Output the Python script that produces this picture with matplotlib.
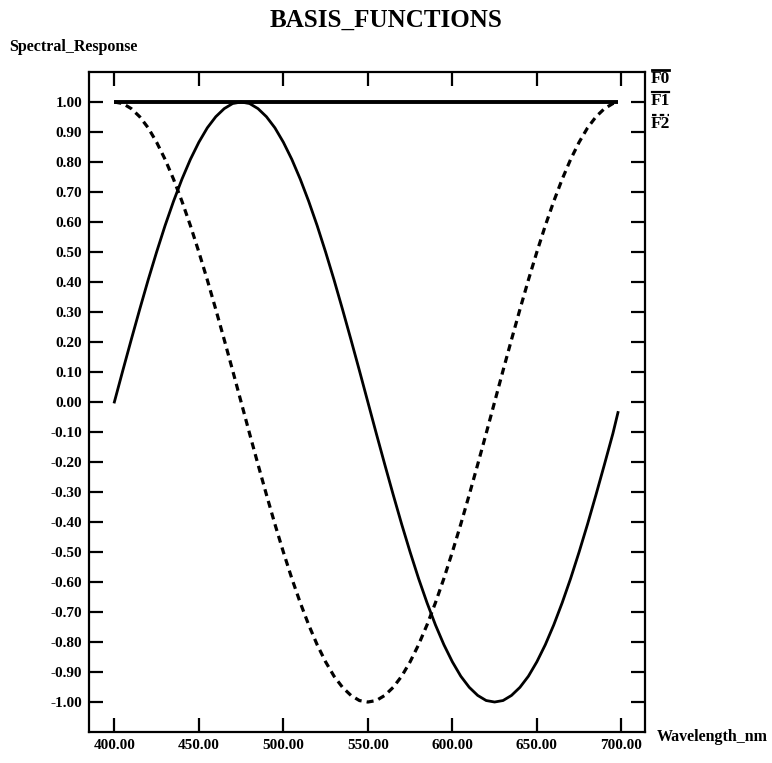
import matplotlib
matplotlib.use('Agg')
from matplotlib import pyplot as plt
from matplotlib.lines import Line2D

plt.rcParams['font.family'] = ['Liberation Serif', 'DejaVu Serif']
plt.rcParams['font.weight'] = 'bold'

# wavelength samples (nm)
wavelength = list(range(400, 700, 5)) + [698]

f0 = [1.0] * len(wavelength)

f1 = [0.000, 0.105, 0.208, 0.309, 0.407, 0.500, 0.588, 0.669, 0.743, 0.809,
      0.866, 0.914, 0.951, 0.978, 0.995, 1.000, 0.995, 0.978, 0.951, 0.914,
      0.866, 0.809, 0.743, 0.669, 0.588, 0.500, 0.407, 0.309, 0.208, 0.105,
      0.000, -0.105, -0.208, -0.309, -0.407, -0.500, -0.588, -0.669, -0.743, -0.809,
      -0.866, -0.914, -0.951, -0.978, -0.995, -1.000, -0.995, -0.978, -0.951, -0.914,
      -0.866, -0.809, -0.743, -0.669, -0.588, -0.500, -0.407, -0.309, -0.208, -0.105,
      -0.035]

f2 = [1.000, 0.995, 0.978, 0.951, 0.914, 0.866, 0.809, 0.743, 0.669, 0.588,
      0.500, 0.407, 0.309, 0.208, 0.105, 0.000, -0.105, -0.208, -0.309, -0.407,
      -0.500, -0.588, -0.669, -0.743, -0.809, -0.866, -0.914, -0.951, -0.978, -0.995,
      -1.000, -0.995, -0.978, -0.951, -0.914, -0.866, -0.809, -0.743, -0.669, -0.588,
      -0.500, -0.407, -0.309, -0.208, -0.105, 0.000, 0.105, 0.208, 0.309, 0.407,
      0.500, 0.588, 0.669, 0.743, 0.809, 0.866, 0.914, 0.951, 0.978, 0.995,
      0.999]

x_ticks = [400, 450, 500, 550, 600, 650, 700]
y_ticks = [1.0 - 0.1 * i for i in range(21)]

fig = plt.figure(figsize=(7.72, 7.63), dpi=100)
ax = fig.add_axes([0.1153, 0.0406, 0.7202, 0.865])

ax.plot(wavelength, f0, color='black', lw=2.8, solid_capstyle='butt')
ax.plot(wavelength, f1, color='black', lw=2.0)
ax.plot(wavelength, f2, color='black', lw=2.3, dashes=(2.2, 1.6))

ax.set_xlim(385, 714)
ax.set_ylim(-1.1, 1.1)
ax.set_xticks(x_ticks)
ax.set_xticklabels(['%.2f' % v for v in x_ticks])
ax.set_yticks(y_ticks)
ax.set_yticklabels(['%.2f' % v if abs(v) > 1e-9 else '0.00' for v in y_ticks])
ax.tick_params(direction='in', length=10, width=1.6, top=True, right=True,
               labelsize=11, pad=5)
for lab in ax.get_xticklabels() + ax.get_yticklabels():
    lab.set_fontweight('bold')
for sp in ax.spines.values():
    sp.set_linewidth(1.6)

fig.text(0.5, 0.974, 'BASIS_FUNCTIONS', ha='center', va='center',
         fontsize=18, fontweight='bold')
fig.text(0.012, 0.939, 'Spectral_Response', ha='left', va='center',
         fontsize=11.5, fontweight='bold')
fig.text(0.851, 0.034, 'Wavelength_nm', ha='left', va='center',
         fontsize=11.5, fontweight='bold')

# legend entries on the right
names = ['F0', 'F1', 'F2']
styles = [dict(lw=2.0), dict(lw=1.6), dict(lw=1.6, dashes=(2, 1.5))]
y_text = [1 - 79 / 763, 1 - 101 / 763, 1 - 124 / 763]
for name, st, yy in zip(names, styles, y_text):
    fig.text(0.843, yy, name, ha='left', va='center', fontsize=12.5, fontweight='bold')
    fig.add_artist(Line2D([0.844, 0.866], [yy + 0.012, yy + 0.012],
                          transform=fig.transFigure, color='black', **st))

fig.savefig('out.png', dpi=100)
